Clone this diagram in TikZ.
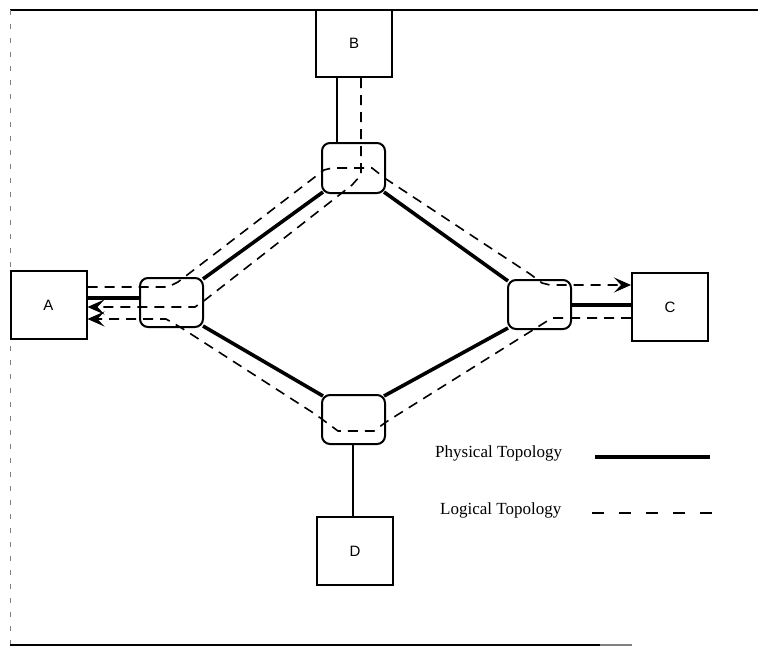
\documentclass[tikz,border=0pt]{standalone}
\usepackage{fontspec}
\setmainfont{Liberation Serif}
\newfontfamily\lblfont{Liberation Sans}
\usetikzlibrary{arrows.meta,calc}
\tikzset{
  box/.style={draw, line width=2pt, inner sep=0pt, minimum width=76pt, minimum height=68pt, font=\lblfont\fontsize{15}{17}\selectfont},
  sw/.style={draw, line width=2pt, rounded corners=8pt, inner sep=0pt, minimum width=63pt, minimum height=49pt},
  phys/.style={line width=3.6pt},
  link/.style={line width=2pt},
  logic/.style={line width=1.6pt, dash pattern=on 10pt off 7pt},
  tip/.style={-{Stealth[length=17pt,width=15pt,inset=7pt,line width=1pt]}},
  legtext/.style={font=\fontsize{17}{19}\selectfont, anchor=west, inner sep=0pt}
}
\begin{document}
\begin{tikzpicture}[x=1pt,y=-1pt]
\useasboundingbox (0,0) rectangle (758,648);
% frame
\draw[line width=2.2pt] (10,10) -- (758,10);
\draw[line width=0.8pt, gray, dash pattern=on 5pt off 9pt] (10,10) -- (10,645);
\draw[line width=2.2pt] (10,645) -- (600,645);
\draw[line width=1.2pt, gray] (600,645) -- (632,645);
% end boxes
\node[box] (A) at (48.5,305) {A};
\node[box, minimum height=67pt] (B) at (354,43.5) {B};
\node[box] (C) at (670,307) {C};
\node[box] (D) at (355,551) {D};
% switches
\node[sw, minimum height=50pt] (sT) at (353.5,168) {};
\node[sw] (sL) at (171.5,302.5) {};
\node[sw] (sR) at (539.5,304.5) {};
\node[sw] (sB) at (353.5,419.5) {};
% physical topology
\draw[link] (B.south -| 337,0) -- (sT.north -| 337,0);
\draw[link] (sB.south -| 353,0) -- (D.north -| 353,0);
\draw[phys] (A.east |- 0,298) -- (sL.west |- 0,298);
\draw[phys] (sR.east |- 0,305) -- (C.west |- 0,305);
\draw[phys] ($(sT.south west)+(2,-2)$) -- ($(sL.north east)+(-1,2)$);
\draw[phys] ($(sT.south east)+(-2,-2)$) -- ($(sR.north west)+(1,2)$);
\draw[phys] ($(sL.south east)+(-1,-2)$) -- ($(sB.north west)+(2,2)$);
\draw[phys] ($(sB.north east)+(-2,2)$) -- ($(sR.south west)+(1,-2)$);
% logical topology
\draw[logic, tip] (A.east |- 0,287) -- (168,287) -- (178,282) -- (324,170) -- (332,168)
  -- (372,168) -- (386,179) -- (530,274) -- (542,283) -- (550,285) -- (C.west |- 0,285);
\draw[logic, tip] (B.south -| 361,0) -- (361,175) -- (352,185) -- (205,300) -- (195,307)
  -- (A.east |- 0,307);
\draw[logic, tip] (C.west |- 0,318) -- (552,318) -- (386,422) -- (374,431) -- (338,431)
  -- (315,414) -- (180,327) -- (166,319) -- (A.east |- 0,319);
% legend
\node[legtext] (lp) at (435,453) {Physical Topology};
\node[legtext] (ll) at (440,510) {Logical Topology};
\coordinate (p1) at (595,457);
\coordinate (p2) at (710,457);
\coordinate (l1) at (592,513);
\coordinate (l2) at (718,513);
\draw[phys] (p1) -- (p2);
\draw[line width=1.8pt, dash pattern=on 12pt off 15pt] (l1) -- (l2);
\end{tikzpicture}
\end{document}
